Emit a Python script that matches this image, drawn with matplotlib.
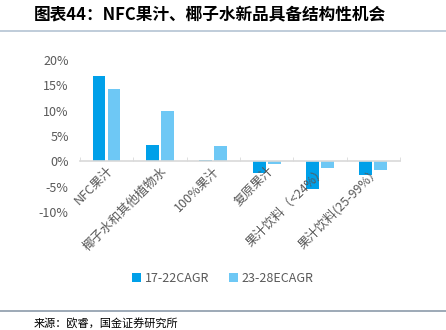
import matplotlib.pyplot as plt
import numpy as np

plt.rcParams['font.family'] = ['Noto Sans CJK SC', 'DejaVu Sans']

categories = ["NFC果汁", "椰子水和其他植物水", "100%果汁", "复原果汁",
              "果汁饮料（<24%）", "果汁饮料(25-99%）"]
cagr_17_22 = [16.8, 3.3, 0.3, -2.4, -5.4, -2.7]
cagr_23_28e = [14.3, 9.9, 3.1, -0.5, -1.4, -1.7]
series_names = ["17-22CAGR", "23-28ECAGR"]
yticks = [-10, -5, 0, 5, 10, 15, 20]

dark_blue = "#00A0E9"
light_blue = "#6EC8F5"
grey = "#595959"

fig = plt.figure(figsize=(4.46, 3.30), dpi=100)
ax = fig.add_axes([0.179, 0.3576, 0.718, 0.4606])

x = np.arange(len(categories))
w = 0.24
ax.bar(x - 0.14, cagr_17_22, w, color=dark_blue, label=series_names[0])
ax.bar(x + 0.14, cagr_23_28e, w, color=light_blue, label=series_names[1])

ax.set_xlim(-0.5, len(categories) - 0.5)
ax.set_ylim(-10, 20)
ax.set_yticks(yticks)
ax.set_yticklabels([f"{t}%" for t in yticks], color=grey, fontsize=9)
ax.tick_params(axis='y', length=0, pad=8)

# zero line doubles as the category axis
for s in ['left', 'right', 'top']:
    ax.spines[s].set_visible(False)
ax.spines['bottom'].set_position(('data', 0))
ax.spines['bottom'].set_color("#D9D9D9")
ax.spines['bottom'].set_linewidth(1.2)
ax.set_xticks(x)
ax.set_xticklabels(categories, rotation=45, ha='right', rotation_mode='anchor',
                   color=grey, fontsize=9)
ax.tick_params(axis='x', length=0, pad=2)
ax.set_xticks(np.arange(-0.5, len(categories)), minor=True)
ax.tick_params(axis='x', which='minor', direction='in', length=3, color="#D9D9D9")

fig.legend(loc='center', bbox_to_anchor=(0.5, 0.157), ncol=2, frameon=False,
           fontsize=9, handlelength=0.7, handleheight=0.7, handletextpad=0.3,
           columnspacing=1.6, labelcolor=grey)

# title and source bands
fig.text(0.075, 0.955, "图表44：NFC果汁、椰子水新品具备结构性机会", fontsize=12,
         fontweight='bold', style='italic', va='center', ha='left')
fig.add_artist(plt.Line2D([0, 1], [0.905, 0.905], color="#B4C3D3", lw=1.2))
fig.add_artist(plt.Line2D([0, 1], [0.058, 0.058], color="#8C9BAA", lw=1.2))
fig.text(0.075, 0.018, "来源：欧睿，国金证券研究所", fontsize=8, va='center', ha='left')

fig.savefig("out.png", dpi=100)
